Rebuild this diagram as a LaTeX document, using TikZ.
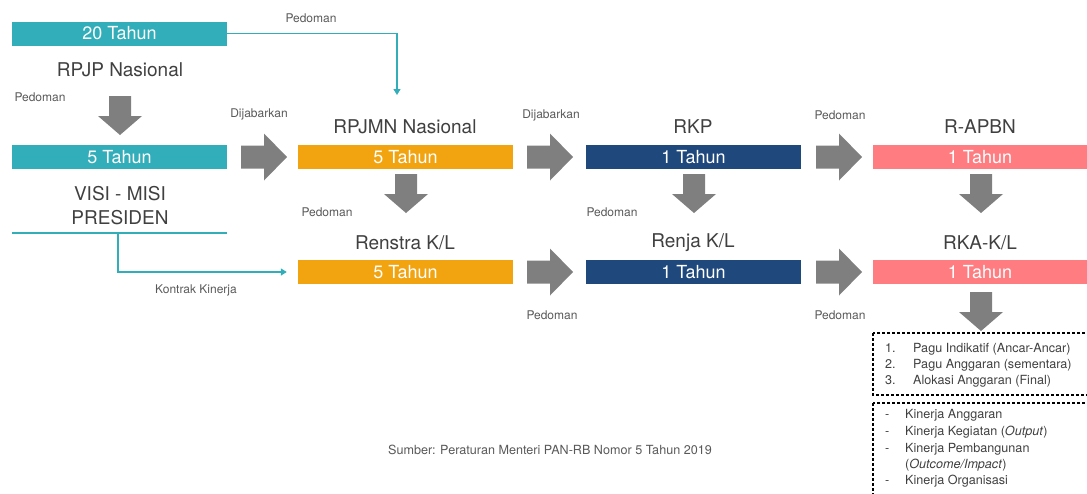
\documentclass[tikz,border=0pt]{standalone}
\usepackage{fontspec}
\setmainfont{TeX Gyre Heros}
\usetikzlibrary{arrows.meta}
\definecolor{tealc}{RGB}{49,174,185}
\definecolor{orangec}{RGB}{242,163,16}
\definecolor{navyc}{RGB}{31,73,125}
\definecolor{pinkc}{RGB}{255,124,128}
\definecolor{grayc}{RGB}{127,127,127}
\definecolor{txtc}{RGB}{64,64,64}
\definecolor{lblc}{RGB}{89,89,89}
\tikzset{
 bar/.style={rectangle, minimum width=215pt, minimum height=24pt, inner sep=0pt, text=white, font=\fontsize{18}{18}\selectfont},
 title/.style={text=txtc, font=\fontsize{19}{24}\selectfont, inner sep=0pt, align=center},
 lbl/.style={text=lblc, font=\fontsize{12}{14}\selectfont, inner sep=0pt},
 item/.style={text=txtc, font=\fontsize{12.6}{14}\selectfont, inner sep=0pt, anchor=west, text height=9pt, text depth=3pt},
 conn/.style={draw=tealc, line width=1.3pt, -{Triangle[width=7pt,length=6pt]}},
 dbox/.style={draw=black, line width=1.1pt, dash pattern=on 3pt off 2pt},
 rarrow/.pic={\fill[grayc] (0,12)--(23,12)--(23,0)--(46,23.5)--(23,47)--(23,35)--(0,35)--cycle;},
 darrow/.pic={\fill[grayc] (11,0)--(33,0)--(33,20)--(44,20)--(22,39)--(0,20)--(11,20)--cycle;}
}
\begin{document}
\begin{tikzpicture}[x=1pt,y=-1pt]
\useasboundingbox (0,0) rectangle (1087,493);
% bars
\node[bar, fill=tealc] (t20) at (119.5,33.5) {20 Tahun};
\node[bar, fill=tealc] (t5) at (119.5,157) {5 Tahun};
\node[bar, fill=orangec] (o1) at (405.5,157) {5 Tahun};
\node[bar, fill=orangec] (o2) at (405.5,272) {5 Tahun};
\node[bar, fill=navyc] (n1) at (693.5,157) {1 Tahun};
\node[bar, fill=navyc] (n2) at (693.5,272) {1 Tahun};
\node[bar, fill=pinkc, minimum width=214pt] (p1) at (980,157) {1 Tahun};
\node[bar, fill=pinkc, minimum width=214pt] (p2) at (980,272) {1 Tahun};
% titles
\node[title] (rpjp) at (120,70) {RPJP Nasional};
\node[title] (visi) at (120,206) {VISI - MISI\\PRESIDEN};
\node[title] (rpjmn) at (405,127) {RPJMN Nasional};
\node[title] (rkp) at (693,127) {RKP};
\node[title] (rapbn) at (980,127) {R-APBN};
\node[title] (renstra) at (405,243) {Renstra K/L};
\node[title] (renja) at (693,243) {Renja K/L};
\node[title] (rkakl) at (980,243) {RKA-K/L};
% small labels
\node[lbl] (l1) at (311,18) {Pedoman};
\node[lbl] (l2) at (40,97) {Pedoman};
\node[lbl] (l3) at (259,114) {Dijabarkan};
\node[lbl] (l4) at (327,212) {Pedoman};
\node[lbl] (l5) at (196,290) {Kontrak Kinerja};
\node[lbl] (l6) at (551,115) {Dijabarkan};
\node[lbl] (l7) at (840,115) {Pedoman};
\node[lbl] (l8) at (612,212) {Pedoman};
\node[lbl] (l9) at (552,315) {Pedoman};
\node[lbl] (l10) at (840,315) {Pedoman};
\node[lbl, font=\fontsize{12.6}{14}\selectfont] (src) at (550,450) {Sumber: Peraturan Menteri PAN-RB Nomor 5 Tahun 2019};
% teal line and connectors
\coordinate (vl) at (12,233);
\coordinate (vr) at (227,233);
\coordinate (vm) at (118,233);
\coordinate (tgt) at (397,95);
\draw[tealc, line width=1.3pt] (vl) -- (vr);
\draw[conn] (t20.east) -| (tgt);
\draw[conn, shorten >=11pt] (vm) |- (o2.west);
% gray block arrows
\pic at (241,133.5) {rarrow};
\pic at (527,133.5) {rarrow};
\pic at (816,133.5) {rarrow};
\pic at (527,248.5) {rarrow};
\pic at (816,248.5) {rarrow};
\pic at (98,96) {darrow};
\pic at (384,174) {darrow};
\pic at (672,174) {darrow};
\pic at (959,174) {darrow};
\pic at (959,292) {darrow};
% dashed boxes
\draw[dbox] (873,333) rectangle (1092,395);
\draw[dbox] (873,403) rectangle (1092,500);
\node[item] (a1) at (885,349) {1.};
\node[item] (a2) at (885,365) {2.};
\node[item] (a3) at (885,381) {3.};
\node[item] (b1) at (913,349) {Pagu Indikatif (Ancar-Ancar)};
\node[item] (b2) at (913,365) {Pagu Anggaran (sementara)};
\node[item] (b3) at (913,381) {Alokasi Anggaran (Final)};
\node[item] (c1) at (885,415) {-};
\node[item] (c2) at (885,432) {-};
\node[item] (c3) at (885,449) {-};
\node[item] (c5) at (885,481) {-};
\node[item] (d1) at (905,415) {Kinerja Anggaran};
\node[item] (d2) at (905,432) {Kinerja Kegiatan (\textit{Output})};
\node[item] (d3) at (905,449) {Kinerja Pembangunan};
\node[item] (d4) at (905,465) {(\textit{Outcome/Impact})};
\node[item] (d5) at (905,481) {Kinerja Organisasi};
\end{tikzpicture}
\end{document}
